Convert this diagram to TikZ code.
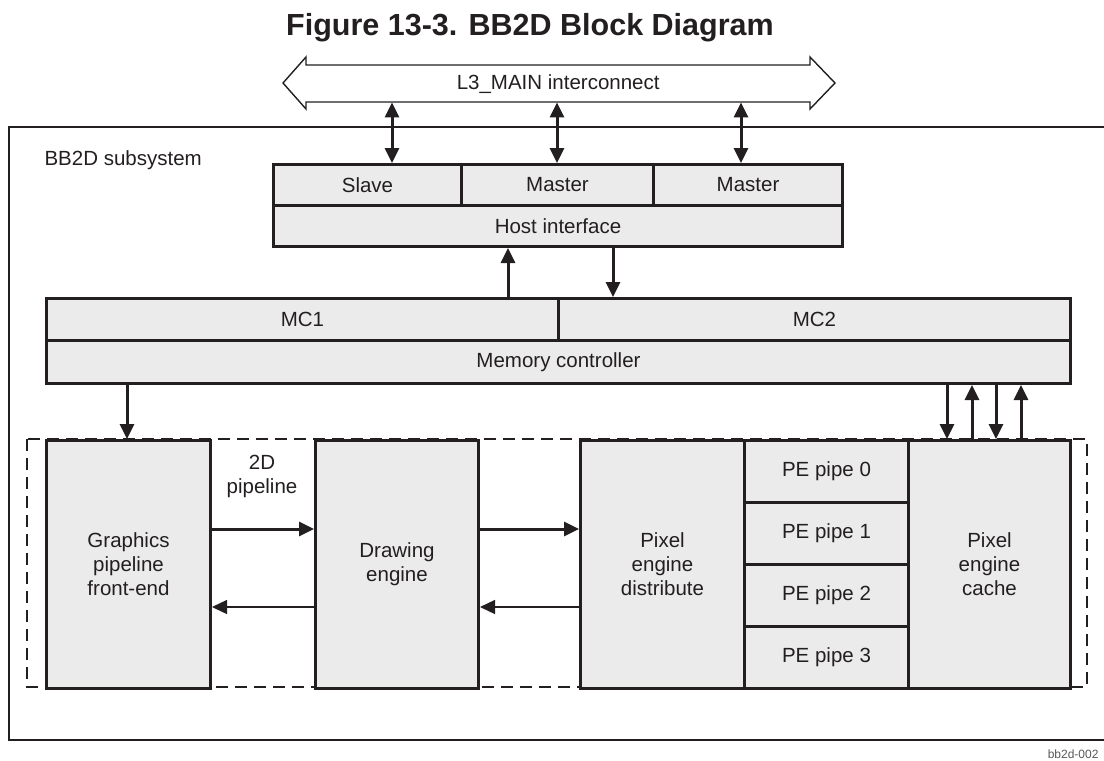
\documentclass[tikz,border=0pt]{standalone}
\usepackage{fontspec}
\setmainfont{Liberation Sans}
\usetikzlibrary{arrows.meta}
\definecolor{ink}{HTML}{231F20}
\definecolor{boxfill}{HTML}{EBEBEB}
\begin{document}
\begin{tikzpicture}[x=1pt,y=-1pt,
  every node/.style={font=\fontsize{20.5}{24}\selectfont, text=ink},
  box/.style={draw=ink, fill=boxfill, line width=3pt, inner sep=0pt, anchor=north west, align=center},
  arr/.style={draw=ink, line width=3pt, -{Triangle[length=15pt,width=14pt]}},
  darr/.style={draw=ink, line width=3pt, {Triangle[length=15pt,width=14pt]}-{Triangle[length=15pt,width=14pt]}},
  thinarr/.style={draw=ink, line width=1.3pt, -{Triangle[length=15pt,width=14pt]}},
  dashbox/.style={draw=ink, line width=2.2pt, dash pattern=on 12pt off 7pt}]
\useasboundingbox (0,0) rectangle (1104,761);

% title
\node[font=\fontsize{30.5}{35}\selectfont\bfseries] (title) at (530,28) {Figure 13-3. BB2D Block Diagram};

% outer subsystem box (extends beyond right edge)
\node[draw=ink, line width=2.2pt, inner sep=0pt, anchor=north west, minimum width=1120pt, minimum height=613pt] (subsys) at (8,126) {};
\node[anchor=west] (subsyslabel) at (41,160) {BB2D subsystem};

% bus
\draw[draw=ink, line width=1.4pt, fill=white] (283,83) -- (306,57) -- (306,65) -- (810,65) -- (810,57) -- (835,83) -- (810,109) -- (810,102) -- (306,102) -- (306,109) -- cycle;
\node[inner sep=0pt, anchor=north west, minimum width=504pt, minimum height=37pt] (bus) at (306,65) {L3\_MAIN interconnect};

% host interface
\node[box, minimum width=188pt, minimum height=41pt] (slave) at (272,163) {Slave};
\node[box, minimum width=192pt, minimum height=41pt] (master1) at (460,163) {Master};
\node[box, minimum width=189pt, minimum height=41pt] (master2) at (652,163) {Master};
\node[box, minimum width=569pt, minimum height=41pt] (host) at (272,204) {Host interface};

% memory controller
\node[box, minimum width=512pt, minimum height=42pt] (mc1) at (45,297) {MC1};
\node[box, minimum width=512pt, minimum height=42pt] (mc2) at (557,297) {MC2};
\node[box, minimum width=1024pt, minimum height=43pt] (memctl) at (45,339) {Memory controller};

% dashed 2D pipeline region
\draw[dashbox] (27,439) rectangle (1087,687);

% lower blocks
\node[box, minimum width=164pt, minimum height=248pt] (gfx) at (45,439) {Graphics\\pipeline\\front-end};
\node[box, minimum width=163pt, minimum height=248pt] (drw) at (314,439) {Drawing\\engine};
\node[box, minimum width=164pt, minimum height=248pt] (ped) at (579,439) {Pixel\\engine\\distribute};
\node[box, minimum width=164pt, minimum height=62pt] (pe0) at (743,439) {PE pipe 0};
\node[box, minimum width=164pt, minimum height=62pt] (pe1) at (743,501) {PE pipe 1};
\node[box, minimum width=164pt, minimum height=62pt] (pe2) at (743,563) {PE pipe 2};
\node[box, minimum width=164pt, minimum height=62pt] (pe3) at (743,625) {PE pipe 3};
\node[box, minimum width=162pt, minimum height=248pt] (pec) at (907,439) {Pixel\\engine\\cache};

\node[align=center] (pipelabel) at (262,476) {2D\\pipeline};
\node[anchor=east, font=\fontsize{12}{14}\selectfont, text=ink!75] (figid) at (1102,754) {bb2d-002};

% bus <-> host
\draw[darr] (bus.south -| 392,0) -- (slave.north -| 392,0);
\draw[darr] (bus.south -| 557,0) -- (master1.north -| 557,0);
\draw[darr] (bus.south -| 741,0) -- (master2.north -| 741,0);

% host <-> MC
\draw[arr] (mc1.north -| 508,0) -- (host.south -| 508,0);
\draw[arr] (host.south -| 613,0) -- (mc2.north -| 613,0);

% MC -> graphics
\draw[arr] (memctl.south -| 127,0) -- (gfx.north -| 127,0);

% MC <-> pixel engine cache
\draw[arr] (memctl.south -| 947,0) -- (pec.north -| 947,0);
\draw[arr] (pec.north -| 972,0) -- (memctl.south -| 972,0);
\draw[arr] (memctl.south -| 996,0) -- (pec.north -| 996,0);
\draw[arr] (pec.north -| 1021,0) -- (memctl.south -| 1021,0);

% pipeline arrows
\draw[arr] (gfx.east |- 0,529) -- (drw.west |- 0,529);
\draw[arr] (drw.east |- 0,529) -- (ped.west |- 0,529);
\draw[thinarr] (drw.west |- 0,607) -- (gfx.east |- 0,607);
\draw[thinarr] (ped.west |- 0,607) -- (drw.east |- 0,607);
\end{tikzpicture}
\end{document}
